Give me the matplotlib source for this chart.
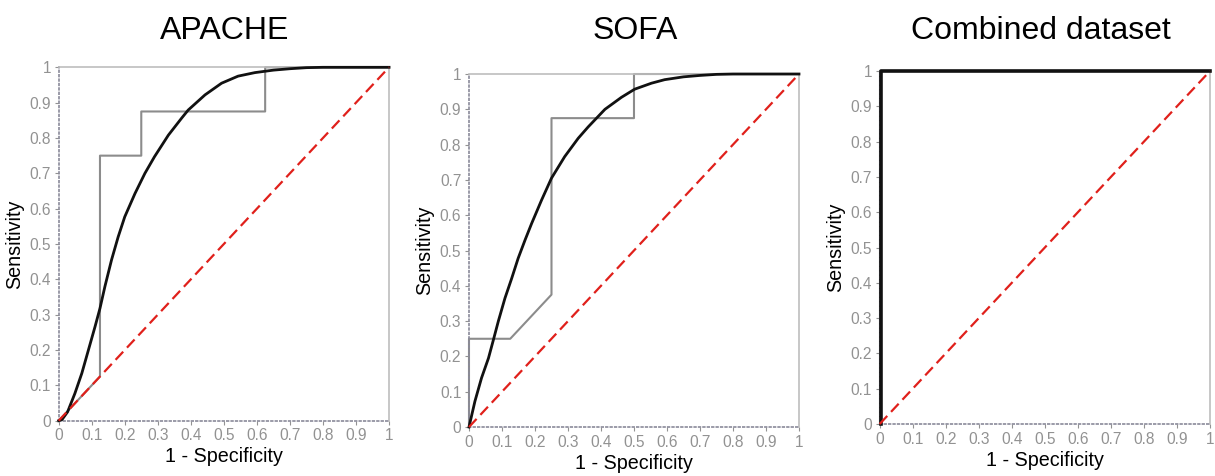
import matplotlib
matplotlib.use("Agg")
import matplotlib.pyplot as plt
import numpy as np

plt.rcParams['font.family'] = ['Liberation Sans', 'DejaVu Sans']

titles = ["APACHE", "SOFA", "Combined dataset"]

# fitted (smooth) ROC curves
apache_fit_x = [0, 0.01, 0.027, 0.049, 0.07, 0.09, 0.11, 0.125, 0.14, 0.16, 0.18, 0.2, 0.231,
                0.261, 0.29, 0.332, 0.372, 0.392, 0.443, 0.493, 0.543, 0.594, 0.65, 0.7, 0.75,
                0.8, 1.0]
apache_fit_y = [0, 0.003, 0.025, 0.077, 0.134, 0.2, 0.266, 0.318, 0.38, 0.455, 0.52, 0.577, 0.643,
                0.70, 0.747, 0.808, 0.856, 0.879, 0.922, 0.955, 0.975, 0.985, 0.992, 0.996, 0.999,
                1.0, 1.0]
sofa_fit_x = [0, 0.018, 0.038, 0.059, 0.074, 0.089, 0.109, 0.129, 0.149, 0.17, 0.19, 0.22, 0.25,
              0.29, 0.331, 0.361, 0.412, 0.462, 0.502, 0.553, 0.593, 0.65, 0.7, 0.75, 0.8, 1.0]
sofa_fit_y = [0, 0.073, 0.139, 0.195, 0.247, 0.3, 0.365, 0.42, 0.478, 0.53, 0.577, 0.643, 0.705,
              0.766, 0.818, 0.85, 0.9, 0.934, 0.957, 0.974, 0.984, 0.992, 0.996, 0.999, 1.0, 1.0]
combined_fit_x = [0.004, 0.004, 1.0]
combined_fit_y = [0, 1.0, 1.0]

# empirical ROC (step) curves
apache_emp_x = [0, 0.125, 0.125, 0.25, 0.25, 0.625, 0.625, 1.0]
apache_emp_y = [0, 0.125, 0.75, 0.75, 0.875, 0.875, 1.0, 1.0]
sofa_emp_x = [0, 0, 0.125, 0.25, 0.25, 0.5, 0.5, 1.0]
sofa_emp_y = [0, 0.25, 0.25, 0.375, 0.875, 0.875, 1.0, 1.0]
combined_emp_x = [0, 0, 1.0]
combined_emp_y = [0, 1.0, 1.0]

fits = [(apache_fit_x, apache_fit_y), (sofa_fit_x, sofa_fit_y), (combined_fit_x, combined_fit_y)]
emps = [(apache_emp_x, apache_emp_y), (sofa_emp_x, sofa_emp_y), (combined_emp_x, combined_emp_y)]
ticks = np.round(np.arange(0, 1.01, 0.1), 1)
tick_labels = ["0", "0.1", "0.2", "0.3", "0.4", "0.5", "0.6", "0.7", "0.8", "0.9", "1"]

# axes rectangles in figure fractions
rects = [[0.0483, 0.1162, 0.2719, 0.7424],
         [0.386, 0.1029, 0.2716, 0.7416],
         [0.724, 0.1092, 0.2719, 0.7416]]
title_x = [225 / 1215, 635 / 1215, 1041 / 1215]

fig = plt.figure(figsize=(12.15, 4.76), dpi=100)
for i in range(3):
    ax = fig.add_axes(rects[i])
    ax.set_xlim(0, 1)
    ax.set_ylim(0, 1)
    for s in ax.spines.values():
        s.set_color("#bdbdbd")
        s.set_linewidth(1.2)
    ax.spines['left'].set_linestyle(":")
    ax.spines['left'].set_color("#8a8a9a")
    ax.spines['bottom'].set_linestyle(":")
    ax.spines['bottom'].set_color("#8a8a9a")

    ex, ey = emps[i]
    if i < 2:
        ax.plot(ex, ey, color="#8c8c8c", lw=1.5, clip_on=False, zorder=2)
    else:
        ax.plot(ex, ey, color="#555555", lw=1.5, clip_on=False, zorder=2)
    fx, fy = fits[i]
    ax.plot(fx, fy, color="#111111", lw=2.0 if i < 2 else 2.6, clip_on=False, zorder=3,
            solid_joinstyle="round")
    ax.plot([0, 1], [0, 1], color="#e0201b", lw=1.6, ls=(0, (5, 2.5)), clip_on=False, zorder=4)

    ax.set_xticks(ticks)
    ax.set_yticks(ticks)
    ax.set_xticklabels(tick_labels)
    ax.set_yticklabels(tick_labels)
    ax.tick_params(colors="#929292", labelsize=11.2, length=3, width=0.8, pad=2.5)
    ax.set_xlabel("1 - Specificity", fontsize=14.2, labelpad=3)
    ax.set_ylabel("Sensitivity", fontsize=14.2, labelpad=4)
    fig.text(title_x[i], 1 - 31 / 476, titles[i], fontsize=23, ha="center", va="center")

fig.savefig("out.png", dpi=100)
